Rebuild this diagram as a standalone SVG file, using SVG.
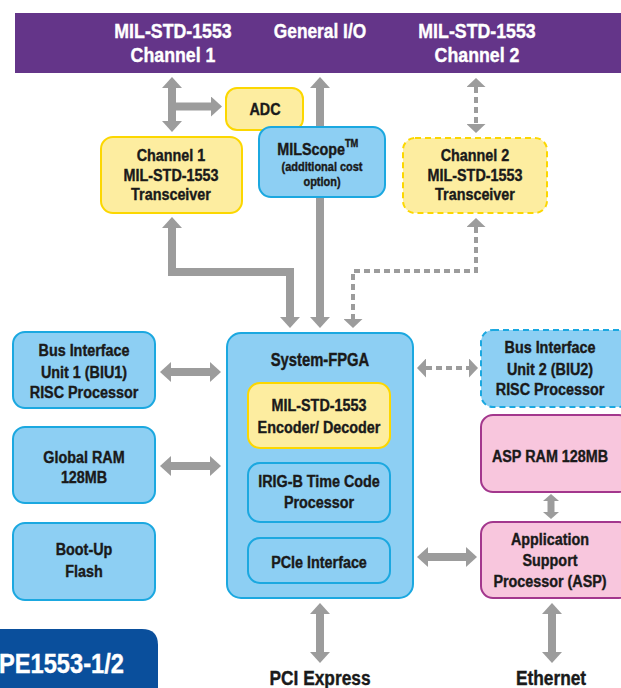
<svg xmlns="http://www.w3.org/2000/svg" width="621" height="688" viewBox="0 0 621 688">
<style>
text{font-family:"Liberation Sans",Arial,sans-serif;font-weight:bold;text-anchor:middle;fill:#1a1a1a;stroke:#1a1a1a;stroke-width:0.4}
.t17{font-size:17px}
.w{fill:#fff;stroke:#fff}
.blue{fill:#8dcff3;stroke:#1ba8e0;stroke-width:2}
.yel{fill:#fdeda0;stroke:#fcd700;stroke-width:2}
.pink{fill:#f8c6dd;stroke:#a3378d;stroke-width:2}
.dash{stroke-dasharray:6 4}
.arr{fill:none;stroke:#9c9c9c;stroke-width:8;marker-start:url(#h);marker-end:url(#h)}
.arr1{fill:none;stroke:#9c9c9c;stroke-width:8;marker-end:url(#h)}
.darr{fill:none;stroke:#9c9c9c;stroke-width:4;stroke-dasharray:6 4;marker-start:url(#hd);marker-end:url(#hd)}
</style>
<defs>
<marker id="h" markerUnits="userSpaceOnUse" markerWidth="11" markerHeight="20" refX="0" refY="10" orient="auto-start-reverse" viewBox="0 0 11 20"><path d="M0,0 L11,10 L0,20 z" fill="#9c9c9c"/></marker>
<marker id="hd" markerUnits="userSpaceOnUse" markerWidth="9" markerHeight="19" refX="0" refY="9.5" orient="auto-start-reverse" viewBox="0 0 9 19"><path d="M0,0 L9,9.5 L0,19 z" fill="#9c9c9c"/></marker>
<marker id="hs" markerUnits="userSpaceOnUse" markerWidth="7" markerHeight="16" refX="0" refY="8" orient="auto-start-reverse" viewBox="0 0 7 16"><path d="M0,0 L7,8 L0,16 z" fill="#9c9c9c"/></marker>
</defs>
<rect width="621" height="688" fill="#fff"/>
<g id="topbar">
<rect x="15" y="13" width="610" height="60" fill="#643589"/>
<text class="w" transform="matrix(.845 0 0 1 173 0)" y="38" font-size="21">MIL-STD-1553</text>
<text class="w" transform="matrix(.845 0 0 1 173 0)" y="62" font-size="21">Channel 1</text>
<text class="w" transform="matrix(.845 0 0 1 320 0)" y="38" font-size="20.5">General I/O</text>
<text class="w" transform="matrix(.845 0 0 1 477 0)" y="38" font-size="21">MIL-STD-1553</text>
<text class="w" transform="matrix(.845 0 0 1 477 0)" y="62" font-size="21">Channel 2</text>
</g>
<g id="connectors">
<line class="arr" x1="172" y1="88" x2="172" y2="121"/>
<line class="arr1" x1="172" y1="106.5" x2="211" y2="106.5"/>
<line class="arr" x1="320" y1="88" x2="320" y2="317"/>
<line class="darr" x1="476" y1="87" x2="476" y2="124"/>
<path class="arr" d="M172,228 V272 H290 V317"/>
<path class="darr" d="M476,227 V271 H353 V319"/>
<line class="arr" x1="171" y1="372" x2="210" y2="372"/>
<line class="arr" x1="171" y1="466" x2="210" y2="466"/>
<line class="darr" x1="426" y1="368" x2="469" y2="368"/>
<line fill="none" stroke="#9c9c9c" stroke-width="7" marker-start="url(#hs)" marker-end="url(#hs)" x1="551" y1="501" x2="551" y2="512"/>
<line class="arr" x1="428" y1="557" x2="466" y2="557"/>
<line class="arr" x1="320" y1="614" x2="320" y2="652"/>
<line class="arr" x1="552" y1="614" x2="552" y2="652"/>
</g>
<g id="adc">
<rect class="yel" x="226" y="88" width="77" height="42" rx="11"/>
<text class="t17" transform="matrix(.845 0 0 1 265 0)" y="115">ADC</text>
</g>
<g id="ch1">
<rect class="yel" x="101" y="137" width="141" height="76" rx="12"/>
<g transform="matrix(.845 0 0 1 171 0)">
<text class="t17" y="161">Channel 1</text>
<text class="t17" y="181">MIL-STD-1553</text>
<text class="t17" y="200">Transceiver</text>
</g>
</g>
<g id="milscope">
<rect class="blue" x="259" y="127" width="126" height="70" rx="12"/>
<g transform="matrix(.845 0 0 1 322 0)">
<text x="-5" y="155" font-size="17">MILScope<tspan font-size="11" dy="-8">TM</tspan></text>
<text y="171" font-size="13">(additional cost</text>
<text y="186" font-size="13">option)</text>
</g>
</g>
<g id="ch2">
<rect class="yel dash" x="403" y="138" width="144" height="75" rx="12"/>
<g transform="matrix(.845 0 0 1 475 0)">
<text class="t17" y="161">Channel 2</text>
<text class="t17" y="181">MIL-STD-1553</text>
<text class="t17" y="200">Transceiver</text>
</g>
</g>
<g id="biu1">
<rect class="blue" x="13" y="332" width="142" height="76" rx="12"/>
<g transform="matrix(.845 0 0 1 84 0)">
<text class="t17" y="356">Bus Interface</text>
<text class="t17" y="378">Unit 1 (BIU1)</text>
<text class="t17" y="398">RISC Processor</text>
</g>
</g>
<g id="gram">
<rect class="blue" x="13" y="427" width="142" height="76" rx="12"/>
<g transform="matrix(.845 0 0 1 84 0)">
<text class="t17" y="463">Global RAM</text>
<text class="t17" y="483">128MB</text>
</g>
</g>
<g id="boot">
<rect class="blue" x="13" y="523" width="142" height="77" rx="12"/>
<g transform="matrix(.845 0 0 1 84 0)">
<text class="t17" y="555">Boot-Up</text>
<text class="t17" y="577">Flash</text>
</g>
</g>
<g id="fpga">
<rect class="blue" x="227" y="333" width="186" height="265" rx="14"/>
<text transform="matrix(.845 0 0 1 320 0)" y="366" font-size="17.5">System-FPGA</text>
</g>
<g id="encoder">
<rect class="yel" x="248" y="383" width="142" height="65" rx="12"/>
<g transform="matrix(.845 0 0 1 319 0)">
<text class="t17" y="411">MIL-STD-1553</text>
<text class="t17" y="433">Encoder/ Decoder</text>
</g>
</g>
<g id="irig">
<rect class="blue" x="248" y="463" width="142" height="59" rx="12"/>
<g transform="matrix(.845 0 0 1 319 0)">
<text class="t17" y="487">IRIG-B Time Code</text>
<text class="t17" y="508">Processor</text>
</g>
</g>
<g id="pcie">
<rect class="blue" x="248" y="538" width="142" height="45" rx="12"/>
<text class="t17" transform="matrix(.845 0 0 1 319 0)" y="568">PCIe Interface</text>
</g>
<g id="biu2">
<rect class="blue dash" x="481" y="330" width="150" height="77" rx="12"/>
<g transform="matrix(.845 0 0 1 550 0)">
<text class="t17" y="353">Bus Interface</text>
<text class="t17" y="375">Unit 2 (BIU2)</text>
<text class="t17" y="395">RISC Processor</text>
</g>
</g>
<g id="aspram">
<rect class="pink" x="481" y="415" width="150" height="77" rx="12"/>
<text class="t17" transform="matrix(.845 0 0 1 550 0)" y="462">ASP RAM 128MB</text>
</g>
<g id="asp">
<rect class="pink" x="481" y="522" width="150" height="76" rx="12"/>
<g transform="matrix(.845 0 0 1 550 0)">
<text class="t17" y="545">Application</text>
<text class="t17" y="566">Support</text>
<text class="t17" y="587">Processor (ASP)</text>
</g>
</g>
<g id="pciexpress">
<text transform="matrix(.845 0 0 1 320 0)" y="685" font-size="20.5">PCI Express</text>
</g>
<g id="ethernet">
<text transform="matrix(.845 0 0 1 551 0)" y="685" font-size="20.5">Ethernet</text>
</g>
<g id="badge">
<path d="M-10,629 H142 Q158,629 158,645 V700 H-10 z" fill="#0a4f9c"/>
<text class="w" transform="matrix(.845 0 0 1 -1 0)" y="673" font-size="28" style="text-anchor:start">PE1553-1/2</text>
</g>
</svg>
